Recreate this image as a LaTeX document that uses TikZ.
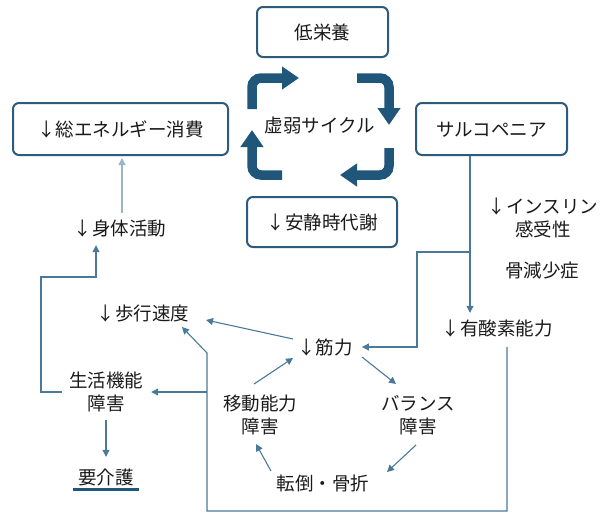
\documentclass[tikz,border=0pt]{standalone}
\usepackage{fontspec}
\setmainfont{Noto Sans CJK JP}
\usetikzlibrary{arrows.meta}
\definecolor{boxc}{HTML}{2C5B7B}
\definecolor{cyc}{HTML}{1F567A}
\definecolor{connc}{HTML}{4B7A99}
\definecolor{lconnc}{HTML}{9DB6C7}
\definecolor{txt}{HTML}{1A1A1A}
\begin{document}
\begin{tikzpicture}[x=1pt,y=-1pt,
  every node/.style={font=\fontsize{18.5}{22.5}\selectfont, text=txt, inner sep=2pt},
  lbl/.style={text height=16pt,text depth=2pt},
  two/.style={align=center},
  rbox/.style={draw=boxc, line width=2pt, rounded corners=6pt, minimum width=#1, minimum height=50pt, fill=white, text height=16pt, text depth=2pt},
  thinc/.style={draw=connc, line width=1.1pt, -{Triangle[length=7pt,width=7pt]}},
  lthinc/.style={draw=lconnc, line width=1.3pt, -{Triangle[length=7pt,width=7pt]}},
  cycarrow/.style={draw=cyc, line width=9.5pt, rounded corners=9pt, -{Triangle[length=17pt,width=22pt]}}]
\useasboundingbox (0,0) rectangle (608,530);
% boxes
\node[rbox=131pt] (low) at (322.5,32) {低栄養};
\node[rbox=150pt] (rest) at (322,222) {↓安静時代謝};
\node[rbox=215pt, minimum height=52pt] (total) at (120.5,129) {↓総エネルギー消費};
\node[rbox=151pt, minimum height=52pt] (sarc) at (491.5,129) {サルコペニア};
% texts
\node[lbl] (cycle) at (320,125) {虚弱サイクル};
\node[two] (ins) at (543,218) {↓インスリン\\感受性};
\node[lbl] (bone) at (542,270) {骨減少症};
\node[lbl] (aero) at (497,328) {↓有酸素能力};
\node[lbl] (act) at (120,228) {↓身体活動};
\node[lbl] (walk) at (143,313) {↓歩行速度};
\node[two] (life) at (106,392) {生活機能\\障害};
\node[lbl] (care) at (106,477) {要介護};
\node[lbl] (mus) at (325,347) {↓筋力};
\node[two] (mob) at (260,415) {移動能力\\障害};
\node[two] (bal) at (418,415) {バランス\\障害};
\node[lbl] (fall) at (323,483) {転倒・骨折};
% cycle arrows
\draw[cycarrow] (252,109) -- (252,78) -- (299,78);
\draw[cycarrow] (357,78) -- (389,78) -- (389,125);
\draw[cycarrow] (389,148) -- (389,175) -- (340,175);
\draw[cycarrow] (282,175) -- (252,175) -- (252,130);
% coordinates
\coordinate (sx) at (470,252);
\coordinate (b1) at (417,252);
\coordinate (lc) at (41,277);
\coordinate (lt) at (96,277);
\coordinate (l1) at (507,511);
\coordinate (l2) at (207,511);
\coordinate (l3) at (207,353);
\coordinate (l4) at (207,392);
% connectors
\draw[lthinc, shorten <=4pt, shorten >=2pt] ([xshift=2pt]act.north) -- ([xshift=2pt]act.north |- total.south);
\draw[thinc, shorten >=6pt] ([xshift=-5pt]life.west) -- (life.west -| lc) -- (lc) -- (lt) -- (lt |- act.south);
\draw[thinc] (sarc.south -| sx) -- ([yshift=4pt]sx |- aero.north);
\draw[thinc, shorten >=7pt] (sx) -- (b1) -- (b1 |- mus.east) -- (mus.east);
\draw[thinc] ([shift={(-32,-8)}]mus.center) -- ([shift={(63,7)}]walk.center);
\draw[thinc, shorten <=8pt] (aero.south -| l1) -- (l1) -- (l2) -- (l3) -- ([shift={(39,14)}]walk.center);
\draw[thinc, shorten >=6pt] (l4) -- (life.east);
\draw[thinc, shorten <=6pt, shorten >=9pt] (life.south) -- (care.north);
\draw[line width=3pt, draw=cyc] ([shift={(-3,1)}]care.south west) -- ([shift={(3,1)}]care.south east);
\draw[thinc] ([shift={(37,10)}]mus.center) -- ([shift={(-22,-31)}]bal.center);
\draw[thinc] ([shift={(-2,30)}]bal.center) -- ([shift={(64,-11)}]fall.center);
\draw[thinc] ([shift={(-52,-12)}]fall.center) -- ([shift={(-4,29)}]mob.center);
\draw[thinc] ([shift={(-6,-31)}]mob.center) -- ([shift={(-32,11)}]mus.center);
\end{tikzpicture}
\end{document}
